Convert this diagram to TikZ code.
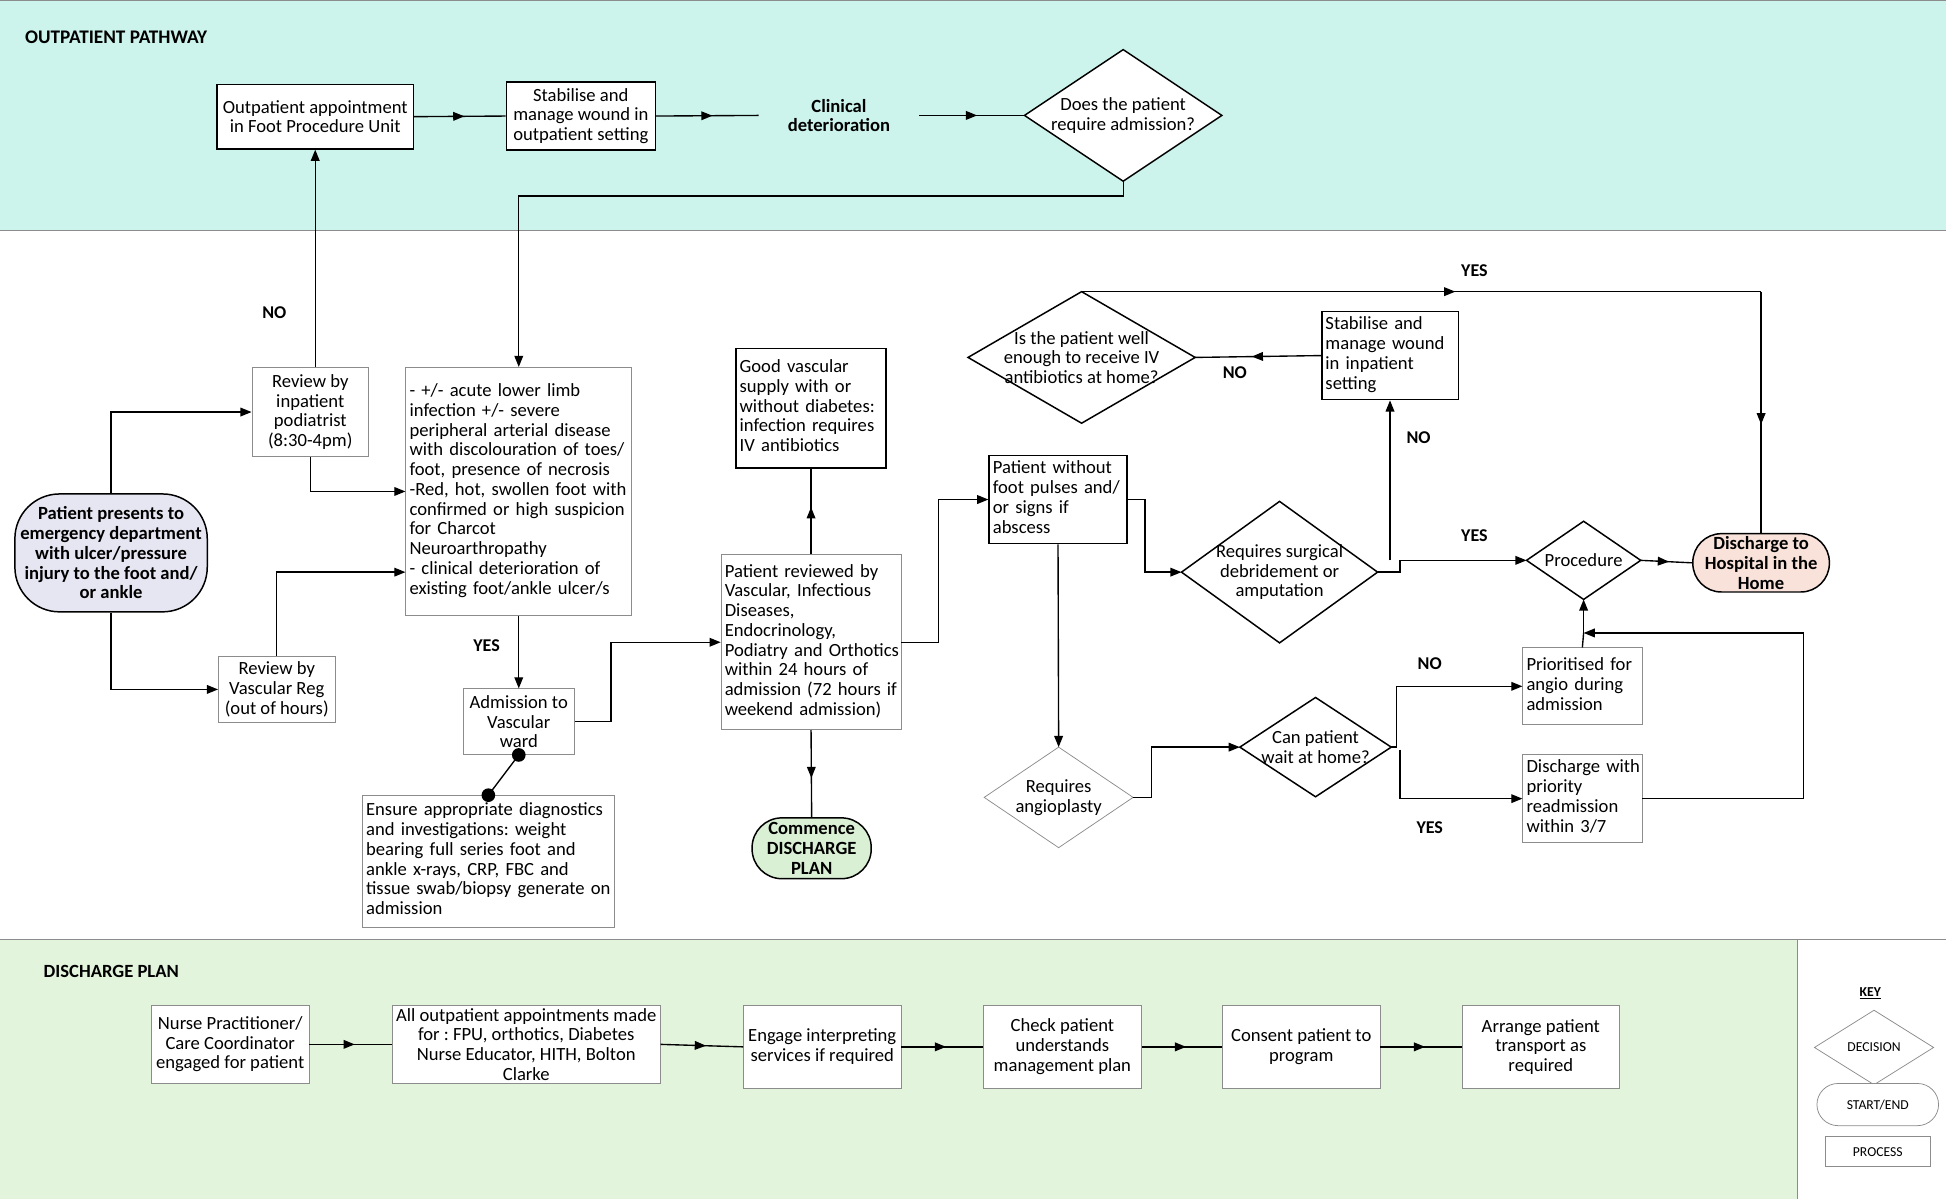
\documentclass[tikz,border=0pt]{standalone}
\usepackage{fontspec}
\setmainfont{Carlito}
\usetikzlibrary{shapes.geometric,arrows.meta,decorations.markings,calc}
\definecolor{topband}{RGB}{204,244,236}
\definecolor{botband}{RGB}{226,244,220}
\definecolor{lav}{RGB}{230,230,242}
\definecolor{grn}{RGB}{218,240,212}
\definecolor{pnk}{RGB}{248,226,218}
\newcommand{\fsmain}{\fontsize{15}{15.9}\selectfont}
\newcommand{\fslab}{\fontsize{14.5}{16}\selectfont\bfseries}
\newcommand{\fskey}{\fontsize{11}{12}\selectfont}
\newcommand{\lefttab}[1]{\begin{tabular}{@{}l@{}}#1\end{tabular}}
\frenchspacing
\begin{document}
\frenchspacing
\begin{tikzpicture}[x=1pt,y=-1pt,
  base/.style={font=\fsmain, inner sep=2pt, fill=white},
  pbox/.style={base, rectangle, draw=black, line width=1.2pt},
  gbox/.style={base, rectangle, draw=black!45, line width=0.6pt},
  dec/.style={diamond, draw=black, line width=1.2pt, fill=white, inner sep=0pt, outer sep=0pt},
  gdec/.style={diamond, draw=black!45, line width=0.6pt, fill=white, inner sep=0pt, outer sep=0pt},
  dtext/.style={font=\fsmain, align=center, inner sep=0pt},
  term/.style={base, rectangle, draw=black, line width=1.2pt, font=\fsmain\bfseries, align=center},
  lab/.style={font=\fslab, inner sep=1pt},
  conn/.style={line width=1.1pt},
  arr/.style={conn, -{Triangle[length=9pt,width=7pt]}},
  midarr/.style={conn, postaction={decorate}, decoration={markings, mark=at position 0.55 with {\arrow{Triangle[length=9pt,width=7pt]}}}},
  keyshape/.style={draw=black!45, line width=0.6pt, fill=white, font=\fskey, inner sep=0pt, outer sep=0pt}
]
\useasboundingbox (0,0) rectangle (1568,966);
% bands
\fill[topband] (0,0) rectangle (1568,186);
\draw[black!45, line width=0.8pt] (0,186) -- (1568,186);
\draw[black!45, line width=0.8pt] (0,0.5) -- (1568,0.5);
\fill[botband] (0,757) rectangle (1448,966);
\draw[black!45, line width=0.8pt] (0,757) -- (1568,757);
\draw[black!45, line width=0.8pt] (1448,757) -- (1448,966);
\node[font=\fontsize{15.5}{17}\selectfont\bfseries, anchor=west, inner sep=0pt] (ttop) at (20,30) {OUTPATIENT PATHWAY};
\node[font=\fontsize{15}{17}\selectfont\bfseries, anchor=west, inner sep=0pt] (tbot) at (35,783) {DISCHARGE PLAN};

% outpatient pathway
\node[pbox, minimum width=158pt, minimum height=52pt, align=center] (op1) at (254,94) {Outpatient appointment\\in Foot Procedure Unit};
\node[pbox, minimum width=120pt, minimum height=55pt, align=center] (op2) at (468,93.5) {Stabilise and\\manage wound in\\outpatient setting};
\node[font=\fsmain\bfseries, align=center, minimum width=129pt, inner sep=0pt] (clin) at (676,93) {Clinical\\deterioration};
\node[dec, minimum width=159pt, minimum height=106pt] (dq) at (905,93) {};
\node[dtext] (dqt) at (dq) {Does the patient\\require admission?};

% main area
\node[term, fill=lav, minimum width=155pt, minimum height=95pt, rounded corners=36pt] (start) at (89.5,445.5) {Patient presents to\\emergency department\\with ulcer/pressure\\injury to the foot and/\\or ankle};
\node[gbox, minimum width=94pt, minimum height=72pt, align=center] (rp) at (250,332) {Review by\\inpatient\\podiatrist\\(8:30-4pm)};
\node[gbox, minimum width=94pt, minimum height=53pt, align=center] (rv) at (223,555.5) {Review by\\Vascular Reg\\(out of hours)};
\node[gbox, text width=176pt, minimum height=200pt, inner sep=3pt, align=left] (crit) at (418,396) {\lefttab{- +/- acute lower limb\\infection +/- severe\\peripheral arterial disease\\with discolouration of toes/\\foot, presence of necrosis\\-Red, hot, swollen foot with\\confirmed or high suspicion\\for Charcot\\Neuroarthropathy\\- clinical deterioration of\\existing foot/ankle ulcer/s}};
\node[gbox, minimum width=90pt, minimum height=53pt, align=center] (adm) at (418,581.5) {Admission to\\Vascular\\ward};
\node[gbox, text width=197pt, minimum height=106pt, inner sep=3pt, align=left] (ens) at (393.5,694) {\lefttab{Ensure appropriate diagnostics\\and investigations: weight\\bearing full series foot and\\ankle x-rays, CRP, FBC and\\tissue swab/biopsy generate on\\admission}};
\node[gbox, text width=139pt, minimum height=141pt, inner sep=3pt, align=left] (prv) at (653.5,517.5) {\lefttab{Patient reviewed by\\Vascular, Infectious\\Diseases,\\Endocrinology,\\Podiatry and Orthotics\\within 24 hours of\\admission (72 hours if\\weekend admission)}};
\node[pbox, text width=115pt, minimum height=96pt, inner sep=3pt, align=left] (good) at (653.5,329) {\lefttab{Good vascular\\supply with or\\without diabetes:\\infection requires\\IV antibiotics}};
\node[term, fill=grn, minimum width=96pt, minimum height=49pt, rounded corners=24pt] (comm) at (654,683.5) {Commence\\DISCHARGE\\PLAN};
\node[pbox, text width=105pt, minimum height=71pt, inner sep=3pt, align=left] (pw) at (852.5,402.5) {\lefttab{Patient without\\foot pulses and/\\or signs if\\abscess}};
\node[dec, minimum width=158pt, minimum height=114pt] (surg) at (1031,461) {};
\node[dtext] (surgt) at (surg) {Requires surgical\\debridement or\\amputation};
\node[pbox, text width=104pt, minimum height=71pt, inner sep=3pt, align=left] (stab2) at (1120,286.5) {\lefttab{Stabilise and\\manage wound\\in inpatient\\setting}};
\node[dec, minimum width=183pt, minimum height=106pt] (well) at (871.5,288) {};
\node[dtext] (wellt) at (well) {Is the patient well\\enough to receive IV\\antibiotics at home?};
\node[term, fill=pnk, minimum width=110pt, minimum height=47pt, rounded corners=23pt] (hith) at (1419,453.5) {Discharge to\\Hospital in the\\Home};
\node[dec, minimum width=92pt, minimum height=63pt] (proc) at (1276,451.5) {};
\node[dtext] (proct) at (proc) {Procedure};
\node[gbox, text width=90pt, minimum height=62pt, inner sep=3pt, align=left] (prio) at (1275,553) {\lefttab{Prioritised for\\angio during\\admission}};
\node[gbox, text width=90pt, minimum height=71pt, inner sep=3pt, align=left] (dwp) at (1275,643.5) {\lefttab{Discharge with\\priority\\readmission\\within 3/7}};
\node[dec, minimum width=122pt, minimum height=80pt] (canw) at (1060,602) {};
\node[dtext] (canwt) at (canw) {Can patient\\wait at home?};
\node[gdec, minimum width=120pt, minimum height=81pt] (angio) at (853,642.5) {};
\node[dtext] (angiot) at (angio) {Requires\\angioplasty};

% connectors top band
\draw[midarr] (op1.east) -- (op2.west);
\draw[midarr] (op2.east) -- (clin.west);
\draw[midarr] (clin.east) -- (dq.west);
\draw[arr] (dq.south) -- ++(0,12) -| (crit.north);

% connectors main
\draw[arr] (start.north) |- (rp.west);
\draw[arr] (start.south) |- (rv.west);
\draw[arr] (rp.north -| op1.south) -- (op1.south);
\node[lab] (lno1) at (221,252) {NO};
\draw[arr] (rp.south) |- (crit.west);
\draw[arr] (rv.north) |- ($(crit.west)+(0,65)$);
\draw[arr] (crit.south) -- (adm.north);
\node[lab] (lyes1) at (392,520) {YES};
\draw[arr] (adm.east) -- ++(29,0) |- (prv.west);
\draw[line width=1.1pt] (adm.south) -- (ens.north);
\fill (adm.south) circle (5.5pt);
\fill (ens.north) circle (5.5pt);
\draw[midarr] (prv.north) -- (good.south);
\draw[midarr] (prv.south) -- (comm.north);
\draw[arr] (prv.east) -- ++(30,0) |- (pw.west);
\draw[arr] (pw.east) -- ++(14,0) |- (surg.west);
\draw[arr] (pw.south) -- (angio.north);
\draw[arr] (surg.east) -- ++(18,0) |- (proc.west);
\node[lab] (lyes2) at (1188,432) {YES};
\draw[arr] (stab2.south |- proc.west) -- (stab2.south);
\node[lab] (lno2) at (1143,353) {NO};
\draw[midarr] (stab2.west) -- (well.east);
\node[lab] (lno3) at (995,300) {NO};
\coordinate (wc) at (hith.north |- well.north);
\draw[midarr] (well.north) -- (wc);
\draw[midarr] (wc) -- (hith.north);
\node[lab] (lyes3) at (1188,218) {YES};
\draw[midarr] (proc.east) -- (hith.west);
\draw[arr] (angio.east) -- ++(15,0) |- (canw.west);
\draw[arr] (canw.east) -- ++(4,0) |- (prio.west);
\node[lab] (lno4) at (1152,535) {NO};
\draw[arr] ($(canw.east)+(7,2)$) |- (dwp.west);
\node[lab] (lyes4) at (1152,667) {YES};
\coordinate (jn) at (proc.south |- 0,510);
\draw[arr] (dwp.east) -- ++(130,0) |- (jn);
\draw[arr] (jn) -- (proc.south);
\draw[line width=1.1pt] (prio.north) -- (jn);

% discharge plan
\node[gbox, minimum width=127pt, minimum height=63pt, align=center] (b1) at (185.5,841.5) {Nurse Practitioner/\\Care Coordinator\\engaged for patient};
\node[gbox, minimum width=216pt, minimum height=63pt, align=center] (b2) at (424,841.5) {All outpatient appointments made\\for : FPU, orthotics, Diabetes\\Nurse Educator, HITH, Bolton\\Clarke};
\node[gbox, minimum width=127pt, minimum height=67pt, align=center] (b3) at (662.5,843.5) {Engage interpreting\\services if required};
\node[gbox, minimum width=128pt, minimum height=67pt, align=center] (b4) at (856,843.5) {Check patient\\understands\\management plan};
\node[gbox, minimum width=127pt, minimum height=67pt, align=center] (b5) at (1048.5,843.5) {Consent patient to\\program};
\node[gbox, minimum width=127pt, minimum height=67pt, align=center] (b6) at (1241.5,843.5) {Arrange patient\\transport as\\required};
\draw[midarr] (b1.east) -- (b2.west);
\draw[midarr] (b2.east) -- (b3.west);
\draw[midarr] (b3.east) -- (b4.west);
\draw[midarr] (b4.east) -- (b5.west);
\draw[midarr] (b5.east) -- (b6.west);

% key
\node[font=\fskey\bfseries, inner sep=0pt] (keyt) at (1507,800) {\underline{KEY}};
\node[keyshape, diamond, minimum width=96pt, minimum height=60pt] (kdec) at (1510,844) {};
\node[font=\fskey, inner sep=0pt] (kdect) at (kdec) {DECISION};
\node[keyshape, rectangle, rounded corners=17pt, minimum width=98pt, minimum height=34pt] (kterm) at (1513,890) {START/END};
\node[keyshape, rectangle, minimum width=84pt, minimum height=24pt] (kproc) at (1513,928) {PROCESS};
\end{tikzpicture}
\end{document}
